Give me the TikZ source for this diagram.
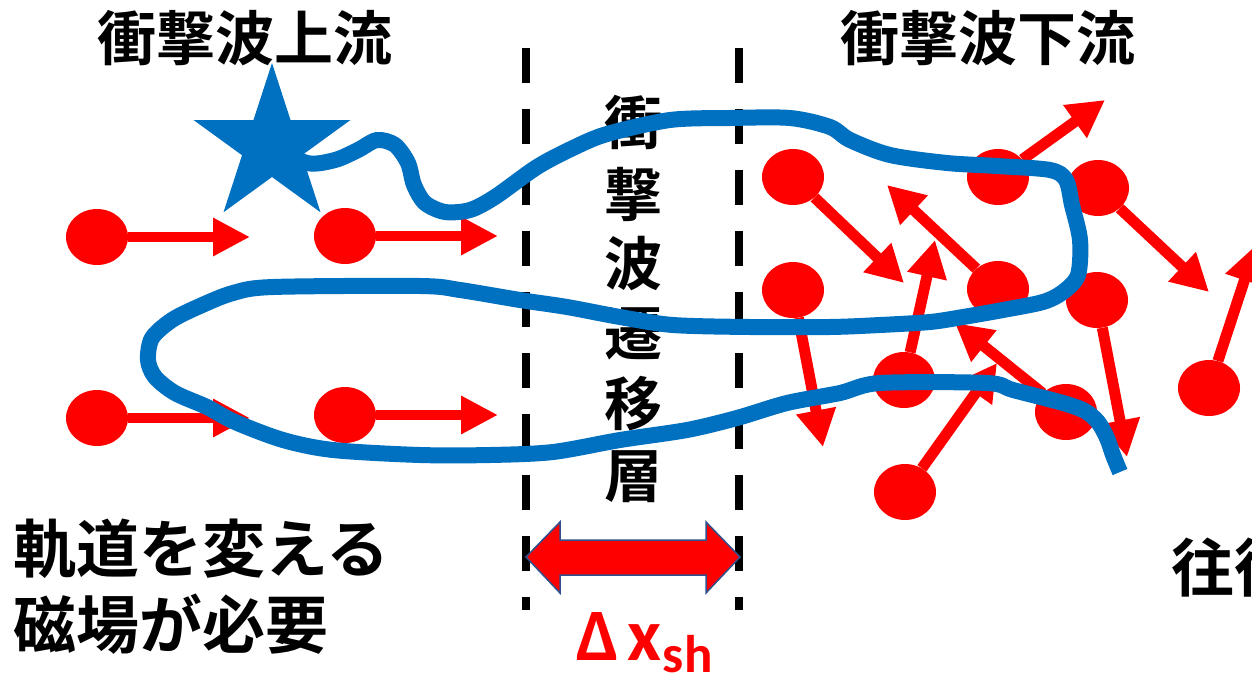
\documentclass[tikz,border=0pt]{standalone}
\usepackage{fontspec}
\newfontfamily\jpfont{Noto Sans CJK JP}[BoldFont={Noto Sans CJK JP Bold}]
\newfontfamily\calfont{Carlito}
\usetikzlibrary{arrows.meta,shapes.geometric}
\definecolor{flowred}{HTML}{FF0000}
\definecolor{fieldblue}{HTML}{0070C0}
\definecolor{edgeblue}{HTML}{2F528F}

\begin{document}
\begin{tikzpicture}[x=1pt,y=-1pt,
  particle/.style={ellipse, fill=flowred, minimum width=62pt, minimum height=56pt, inner sep=0pt},
  vel/.style={draw=flowred, line width=11pt, -{Triangle[length=37pt,width=38pt]}},
  front/.style={line width=8pt, dash pattern=on 35pt off 26pt},
  orbit/.style={draw=fieldblue, line width=16pt, line join=round},
  jptext/.style={font=\jpfont\bfseries\fontsize{59}{59}\selectfont, inner sep=0pt},
  bigjp/.style={font=\jpfont\bfseries\fontsize{63}{63}\selectfont, inner sep=0pt, anchor=base west},
]
\useasboundingbox (0,0) rectangle (1252,677);
\fill[white] (0,0) rectangle (1252,677);
\clip (0,0) rectangle (1252,677);

% shock transition layer boundaries
\coordinate (sl-top) at (526,48);
\coordinate (sl-bot) at (526,610);
\coordinate (sr-top) at (739,48);
\coordinate (sr-bot) at (739,610);
\draw[front] (sl-top) -- (sl-bot);
\draw[front] (sr-top) -- (sr-bot);

% headings
\node[jptext, anchor=base] (up) at (245,60) {衝撃波上流};
\node[jptext, anchor=base] (down) at (988,60) {衝撃波下流};

% vertical label inside the layer
\foreach \ch/\yy [count=\i] in {衝/144, 撃/216, 波/285, 遷/355, 移/425, 層/497}
  \node[jptext, anchor=base, font=\jpfont\bfseries\fontsize{58}{58}\selectfont] (layer\i) at (633,\yy) {\ch};

% captions
\node[bigjp] (cap1) at (13,572) {軌道を変える};
\node[bigjp] (cap2) at (13,648) {磁場が必要};
\node[bigjp] (cap3) at (1171,591) {往復};

% upstream particles: uniform flow
\node[particle] (u1) at (97,237) {};
\node[particle] (u2) at (345,236) {};
\node[particle] (u3) at (97,418) {};
\node[particle] (u4) at (345,415) {};
\coordinate (ut1) at (250,237);
\coordinate (ut2) at (498,236);
\coordinate (ut3) at (250,418);
\coordinate (ut4) at (498,415);
\draw[vel, line width=10pt, -{Triangle[length=37pt,width=36pt]}] (u1) -- (ut1);
\draw[vel, line width=10pt, -{Triangle[length=37pt,width=36pt]}] (u2) -- (ut2);
\draw[vel, line width=10pt, -{Triangle[length=37pt,width=36pt]}] (u3) -- (ut3);
\draw[vel, line width=10pt, -{Triangle[length=37pt,width=36pt]}] (u4) -- (ut4);

% downstream particles: randomised velocities
\foreach \n/\px/\py/\tx/\ty in {
  1/793/177/904/283,
  2/998/177/1105/100,
  3/1098/188/1209/292,
  4/998/289/887/185,
  5/904/380/935/240,
  6/793/290/823/447,
  7/1097/300/1127/457,
  8/1066/412/955/323,
  9/905/492/997/363,
  10/1209/388/1256/245}
{
  \node[particle] (d\n) at (\px,\py) {};
  \coordinate (dt\n) at (\tx,\ty);
  \draw[vel] (d\n) -- (dt\n);
}

% layer thickness
\fill[flowred, draw=edgeblue, line width=1.5pt]
  (526,557) -- (560,522) -- (560,540) -- (706,540) -- (706,522) -- (740,557)
  -- (706,593) -- (706,575) -- (560,575) -- (560,593) -- cycle;
\node[text=flowred, font=\calfont\bfseries\fontsize{74}{74}\selectfont, anchor=base west, inner sep=0pt]
  (dx) at (576,660) {Δ\kern9pt x\kern1pt\raisebox{-12pt}{\fontsize{53}{53}\selectfont sh}};

% particle trajectory
\node[star, star points=5, star point ratio=2.618, minimum size=165pt, inner sep=0pt, fill=fieldblue] (src) at (272,145.5) {};
\draw[orbit] plot[smooth, tension=0.5] coordinates {
  (src.center) (307,163) (335,160) (358,150) (377,140) (395,145) (408,163) (414,185)
  (425,203) (445,212) (470,210) (495,197) (537,167) (573,148) (607,134) (670,120)
  (730,118) (790,118) (830,127) (850,140) (890,155) (947,163) (997,166) (1050,170)
  (1066,180) (1072,205) (1080,240) (1078,275) (1063,292) (1043,302) (1003,310)
  (963,317) (930,322) (880,325) (830,327) (750,327) (673,325) (620,317) (567,307)
  (520,300) (460,290) (420,286) (273,287) (233,293) (200,306) (172,320) (152,338)
  (148,360) (155,377) (175,393) (207,407) (235,422) (283,440) (333,450) (420,455)
  (490,455) (553,452) (620,440) (687,430) (737,418) (787,403) (840,393) (880,383)
  (987,383) (1013,390) (1063,403) (1085,411) (1098,422) (1107,438) (1113,455) (1120,472)};
\end{tikzpicture}
\end{document}
